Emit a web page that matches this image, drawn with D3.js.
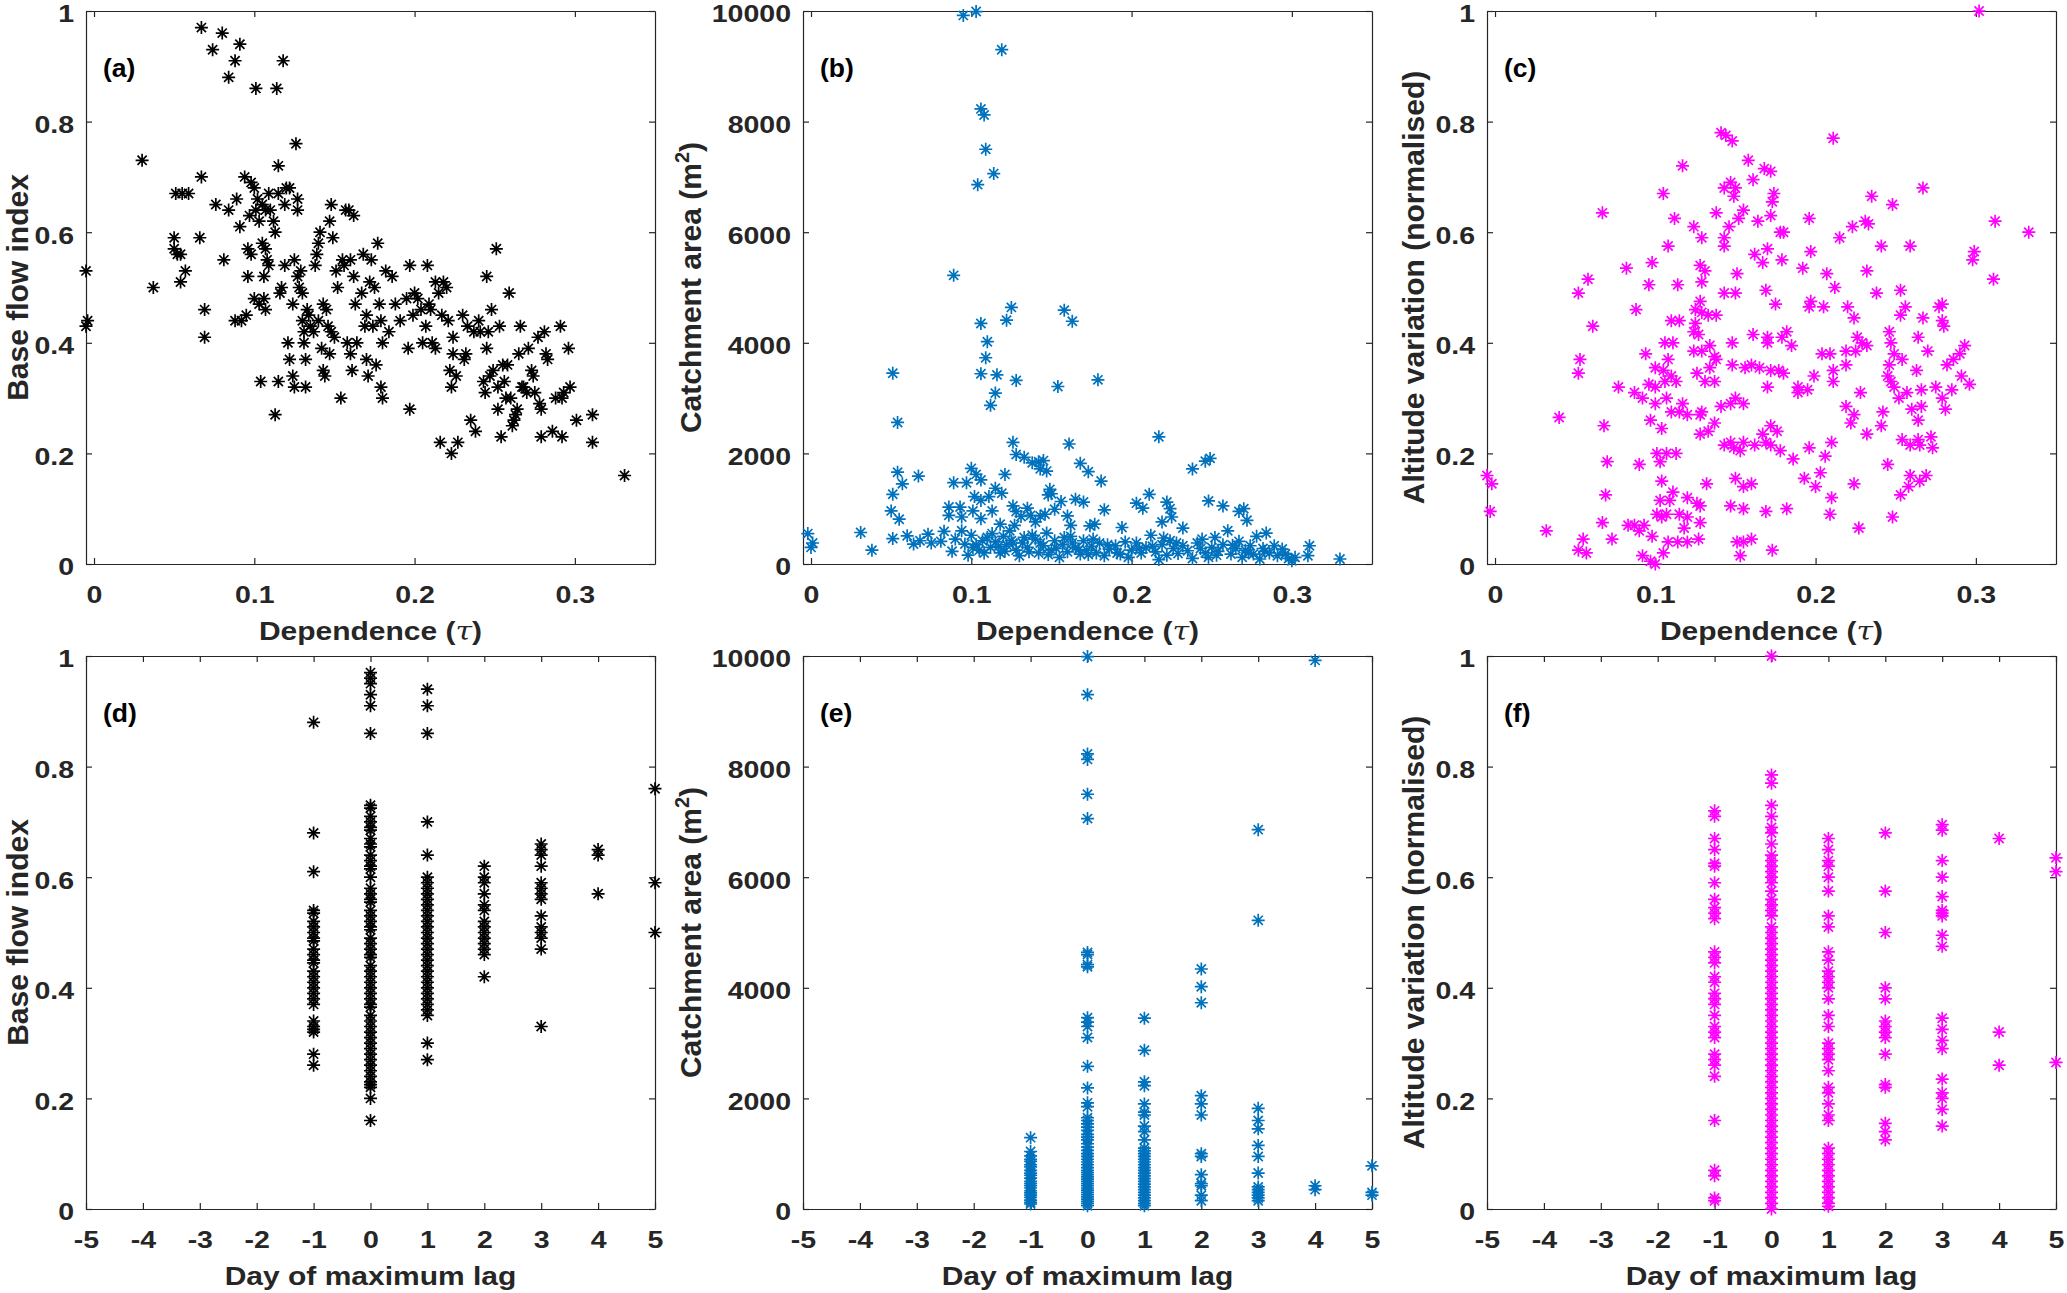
<!DOCTYPE html>
<html>
<head>
<meta charset="utf-8">
<title>Dependence, lag and catchment properties</title>
<script src="https://cdnjs.cloudflare.com/ajax/libs/d3/7.8.5/d3.min.js"></script>
<style>
  body { margin: 0; background: #fff; }
  svg { display: block; font-family: "Liberation Sans", Arial, Helvetica, sans-serif; font-weight: bold; }
</style>
</head>
<body>
<svg id="fig" width="2067" height="1293"></svg>
<script>
// ---- tick values ----
const tauTicks = [0, 0.1, 0.2, 0.3];
const lagTicks = [-5, -4, -3, -2, -1, 0, 1, 2, 3, 4, 5];
const unitTicks = [0, 0.2, 0.4, 0.6, 0.8, 1];
const areaTicks = [0, 2000, 4000, 6000, 8000, 10000];

// ---- (a) dependence vs base flow index: [tau, bfi] ----
const tauBfi = [
  [0.067,0.97],[0.074,0.93],[0.080,0.96],[0.091,0.94],[0.088,0.91],[0.084,0.88],[0.101,0.86],[0.114,0.86],[0.118,0.91],
  [0.126,0.76],[0.030,0.73],[0.115,0.72],[0.067,0.70],[0.094,0.70],
  [-0.005,0.53],[-0.004,0.44],[-0.005,0.43],[0.037,0.50],
  [0.051,0.67],[0.055,0.67],[0.059,0.67],[0.050,0.59],[0.050,0.57],[0.052,0.56],[0.054,0.56],[0.054,0.51],[0.057,0.53],
  [0.066,0.59],[0.069,0.46],[0.069,0.41],[0.076,0.65],[0.081,0.55],[0.084,0.64],[0.089,0.66],[0.091,0.61],[0.088,0.44],
  [0.092,0.44],[0.095,0.45],[0.096,0.52],[0.096,0.57],[0.098,0.56],[0.097,0.63],[0.098,0.69],[0.100,0.68],[0.102,0.66],
  [0.101,0.64],[0.103,0.62],[0.100,0.48],[0.103,0.47],[0.104,0.33],[0.106,0.48],[0.107,0.46],[0.105,0.58],[0.107,0.57],
  [0.108,0.55],[0.106,0.52],[0.109,0.54],[0.105,0.65],[0.107,0.64],[0.109,0.67],[0.110,0.64],[0.113,0.27],[0.115,0.33],
  [0.112,0.62],[0.113,0.60],[0.116,0.49],[0.117,0.50],[0.115,0.67],[0.119,0.54],[0.119,0.65],[0.120,0.68],[0.122,0.68],
  [0.121,0.40],[0.122,0.37],[0.124,0.34],[0.125,0.32],[0.124,0.47],[0.125,0.55],[0.127,0.66],[0.127,0.64],[0.127,0.52],
  [0.128,0.50],[0.129,0.53],[0.130,0.49],[0.130,0.44],[0.131,0.40],[0.132,0.37],[0.131,0.42],[0.132,0.32],[0.133,0.46],
  [0.134,0.45],[0.135,0.43],[0.137,0.42],[0.138,0.54],[0.139,0.56],[0.140,0.58],[0.141,0.60],[0.140,0.44],[0.142,0.39],
  [0.143,0.47],[0.143,0.35],[0.144,0.34],[0.145,0.46],[0.146,0.43],[0.147,0.38],[0.148,0.42],[0.147,0.62],[0.148,0.65],
  [0.149,0.59],[0.150,0.41],[0.151,0.53],[0.152,0.50],[0.154,0.30],[0.155,0.55],[0.156,0.54],[0.157,0.64],[0.158,0.40],
  [0.159,0.64],[0.160,0.38],[0.161,0.35],[0.162,0.63],[0.160,0.55],[0.162,0.52],[0.163,0.47],[0.164,0.40],[0.167,0.49],
  [0.168,0.56],[0.169,0.43],[0.170,0.45],[0.170,0.37],[0.171,0.34],[0.172,0.51],[0.173,0.55],[0.174,0.43],[0.175,0.50],
  [0.176,0.36],[0.177,0.58],[0.178,0.47],[0.179,0.44],[0.179,0.32],[0.180,0.30],[0.180,0.40],[0.182,0.53],[0.184,0.42],
  [0.186,0.52],[0.188,0.47],[0.191,0.44],[0.195,0.48],[0.196,0.39],[0.197,0.28],[0.197,0.54],[0.199,0.45],[0.200,0.49],
  [0.202,0.48],[0.204,0.46],[0.205,0.40],[0.207,0.43],[0.208,0.54],[0.209,0.47],[0.210,0.46],[0.211,0.40],[0.213,0.39],
  [0.213,0.51],[0.215,0.49],[0.217,0.45],[0.218,0.51],[0.220,0.50],[0.221,0.44],[0.222,0.35],[0.223,0.32],[0.224,0.41],
  [0.224,0.38],[0.226,0.34],[0.216,0.22],[0.223,0.20],[0.227,0.22],[0.230,0.45],[0.232,0.38],[0.231,0.37],[0.233,0.43],
  [0.235,0.26],[0.237,0.42],[0.238,0.24],[0.240,0.44],[0.241,0.42],[0.243,0.33],[0.244,0.31],[0.245,0.39],[0.245,0.52],
  [0.246,0.42],[0.247,0.34],[0.248,0.46],[0.249,0.35],[0.251,0.57],[0.252,0.32],[0.252,0.28],[0.253,0.43],[0.254,0.23],
  [0.255,0.36],[0.256,0.33],[0.257,0.30],[0.258,0.36],[0.259,0.49],[0.260,0.30],[0.261,0.25],[0.262,0.26],[0.263,0.27],
  [0.264,0.28],[0.265,0.38],[0.266,0.43],[0.267,0.32],[0.268,0.32],[0.270,0.31],[0.271,0.39],[0.273,0.35],[0.274,0.34],
  [0.275,0.31],[0.277,0.41],[0.278,0.29],[0.279,0.28],[0.279,0.23],[0.281,0.42],[0.282,0.38],[0.283,0.37],[0.286,0.24],
  [0.288,0.30],[0.291,0.43],[0.292,0.23],[0.292,0.30],[0.293,0.31],[0.296,0.39],[0.297,0.32],[0.301,0.26],[0.311,0.27],
  [0.311,0.22],[0.331,0.16]
];

// ---- (b) dependence vs catchment area: [tau, area] ----
const tauArea = [
  [0.095,9920],[0.103,9990],[0.119,9300],[0.106,8230],[0.108,8120],[0.109,7500],[0.114,7060],[0.104,6860],[0.089,5220],
  [0.125,4640],[0.122,4410],[0.106,4350],[0.110,4020],[0.109,3730],[0.106,3440],[0.116,3420],[0.128,3320],[0.115,3090],
  [0.112,2870],[0.051,3450],[0.054,2560],[0.158,4590],[0.163,4390],[0.154,3210],[0.179,3330],[0.217,2300],[0.161,2170],
  [0.126,2200],[0.128,1980],[0.133,1930],[0.138,1830],[0.142,1850],[0.143,1720],[0.145,1870],[0.147,1680],[0.121,1620],
  [0.100,1730],[0.103,1620],[0.106,1520],[0.089,1470],[0.097,1470],[0.054,1660],[0.057,1450],[0.067,1590],[0.051,1260],
  [0.050,960],[0.055,810],[0.168,1820],[0.173,1670],[0.181,1500],[0.238,1720],[0.246,1860],[0.249,1910],[0.248,1140],
  [0.257,1050],[0.267,950],[0.270,1000],[0.272,790],[0.115,1370],[0.119,1280],[0.111,1220],[0.102,1220],[0.106,1150],
  [0.093,1030],[0.086,1030],[0.086,880],[0.094,850],[0.101,960],[0.106,820],[0.113,960],[0.118,720],[0.126,1050],
  [0.128,950],[0.131,860],[0.135,1010],[0.137,880],[0.127,700],[0.124,600],[0.140,760],[0.143,870],[0.146,900],
  [0.148,1250],[0.149,1350],[0.150,1270],[0.152,990],[0.156,1130],[0.160,870],[0.162,700],[0.165,1170],[0.170,1120],
  [0.174,690],[0.177,720],[0.183,980],[0.194,660],[0.203,1100],[0.207,1010],[0.211,1260],[0.222,1120],[0.224,1000],
  [0.225,850],[0.219,760],[0.232,650],
  [0.000,300],[-0.002,550],[0.001,380],[0.031,570],[0.038,250],[0.051,460],[0.060,510],[0.064,360],[0.068,420],
  [0.073,540],[0.075,380],[0.081,410],[0.083,590],[0.088,230],[0.090,450],[0.094,600],[0.096,360],[0.098,160],
  [0.100,520],[0.103,350],[0.105,250],[0.107,420],[0.110,480],[0.112,300],[0.115,400],[0.118,200],[0.120,500],
  [0.122,350],[0.125,420],[0.128,250],[0.130,150],[0.132,380],[0.135,300],[0.138,520],[0.140,450],[0.142,200],
  [0.145,330],[0.147,560],[0.150,250],[0.152,420],[0.155,120],[0.157,350],[0.160,220],[0.162,500],[0.165,300],
  [0.168,180],[0.170,420],[0.172,250],[0.175,320],[0.178,200],[0.180,380],[0.183,150],[0.186,270],[0.190,330],
  [0.193,180],[0.196,400],[0.198,120],[0.200,250],[0.203,380],[0.206,200],[0.209,300],[0.212,520],[0.215,220],
  [0.217,80],[0.219,350],[0.222,160],[0.224,420],[0.226,280],[0.229,190],[0.232,330],[0.235,240],[0.238,100],
  [0.241,380],[0.244,450],[0.246,200],[0.248,120],[0.250,300],[0.252,480],[0.254,230],[0.257,350],[0.260,600],
  [0.262,180],[0.265,280],[0.267,410],[0.269,120],[0.271,250],[0.274,330],[0.276,180],[0.278,500],[0.280,90],
  [0.282,280],[0.284,560],[0.286,200],[0.289,330],[0.291,150],[0.294,270],[0.296,180],[0.298,100],[0.300,60],
  [0.302,120],[0.311,330],[0.310,150],[0.330,90],
  [0.101,300],[0.108,200],[0.113,550],[0.117,320],[0.121,230],[0.126,380],[0.133,480],[0.136,220],[0.143,380],
  [0.148,170],[0.153,280],[0.158,480],[0.163,380],[0.167,260],[0.173,170],[0.176,450],[0.185,350],[0.191,200],
  [0.205,280],[0.213,320],[0.220,470],[0.228,380],[0.243,280],[0.253,160],[0.263,340],[0.273,200],[0.283,230]
];

// ---- (c) dependence vs normalised altitude variation: [tau, alt] ----
const tauAlt = [
  [0.302,1.00],[0.141,0.78],[0.144,0.775],[0.148,0.765],[0.211,0.77],[0.158,0.73],[0.117,0.72],[0.168,0.715],[0.172,0.71],
  [0.147,0.69],[0.143,0.68],[0.150,0.68],[0.161,0.695],[0.267,0.68],[0.105,0.67],[0.149,0.665],[0.174,0.67],[0.235,0.665],
  [0.248,0.65],[0.173,0.655],[0.067,0.635],[0.138,0.635],[0.155,0.64],[0.172,0.63],[0.196,0.625],[0.112,0.625],[0.152,0.625],
  [0.164,0.62],[0.231,0.62],[0.233,0.615],[0.312,0.62],[0.124,0.61],[0.146,0.61],[0.223,0.61],[0.129,0.59],[0.178,0.60],
  [0.180,0.60],[0.215,0.59],[0.333,0.60],[0.143,0.59],[0.108,0.575],[0.143,0.575],[0.241,0.575],[0.259,0.575],[0.170,0.57],
  [0.197,0.565],[0.162,0.56],[0.299,0.565],[0.298,0.55],[0.179,0.55],[0.167,0.545],[0.098,0.545],[0.082,0.535],[0.128,0.54],
  [0.131,0.53],[0.192,0.535],[0.207,0.525],[0.151,0.525],[0.232,0.53],[0.058,0.515],[0.311,0.515],[0.096,0.505],[0.114,0.505],
  [0.129,0.51],[0.212,0.50],[0.052,0.49],[0.143,0.49],[0.150,0.49],[0.169,0.495],[0.238,0.49],[0.253,0.495],[0.128,0.475],
  [0.175,0.47],[0.197,0.475],[0.196,0.465],[0.205,0.465],[0.220,0.465],[0.279,0.47],[0.277,0.465],[0.088,0.46],[0.125,0.46],
  [0.129,0.455],[0.133,0.45],[0.138,0.45],[0.256,0.465],[0.253,0.45],[0.110,0.44],[0.115,0.44],[0.125,0.435],[0.224,0.445],
  [0.267,0.445],[0.279,0.44],[0.280,0.43],[0.061,0.43],[0.124,0.42],[0.127,0.415],[0.161,0.415],[0.182,0.42],[0.179,0.41],
  [0.170,0.41],[0.226,0.41],[0.229,0.40],[0.246,0.42],[0.264,0.41],[0.247,0.40],[0.106,0.40],[0.111,0.40],[0.148,0.40],
  [0.170,0.40],[0.185,0.395],[0.134,0.395],[0.293,0.395],[0.232,0.395],[0.094,0.38],[0.124,0.385],[0.129,0.385],[0.138,0.37],
  [0.204,0.38],[0.209,0.38],[0.219,0.385],[0.225,0.385],[0.270,0.385],[0.249,0.38],[0.290,0.38],[0.053,0.37],[0.108,0.37],
  [0.137,0.375],[0.286,0.37],[0.254,0.37],[0.148,0.36],[0.156,0.355],[0.160,0.36],[0.165,0.355],[0.172,0.35],[0.180,0.345],
  [0.177,0.35],[0.134,0.355],[0.219,0.36],[0.246,0.36],[0.282,0.36],[0.100,0.355],[0.105,0.35],[0.110,0.34],[0.052,0.345],
  [0.126,0.345],[0.211,0.35],[0.245,0.34],[0.291,0.34],[0.106,0.33],[0.113,0.33],[0.131,0.33],[0.137,0.33],[0.170,0.32],
  [0.199,0.34],[0.211,0.33],[0.247,0.33],[0.263,0.35],[0.077,0.32],[0.096,0.325],[0.100,0.32],[0.189,0.32],[0.195,0.315],
  [0.249,0.32],[0.257,0.31],[0.275,0.32],[0.266,0.315],[0.285,0.315],[0.296,0.325],[0.087,0.31],[0.092,0.30],[0.107,0.30],
  [0.150,0.30],[0.189,0.31],[0.228,0.31],[0.252,0.30],[0.279,0.30],[0.100,0.29],[0.117,0.29],[0.129,0.275],[0.147,0.29],
  [0.155,0.29],[0.219,0.285],[0.260,0.28],[0.266,0.285],[0.281,0.28],[0.040,0.265],[0.110,0.275],[0.115,0.275],[0.120,0.27],
  [0.128,0.27],[0.141,0.285],[0.224,0.27],[0.242,0.275],[0.097,0.26],[0.222,0.255],[0.068,0.25],[0.104,0.245],[0.137,0.255],
  [0.172,0.25],[0.241,0.25],[0.264,0.26],[0.128,0.235],[0.133,0.24],[0.167,0.235],[0.176,0.24],[0.232,0.235],[0.264,0.225],
  [0.272,0.23],[0.143,0.215],[0.147,0.22],[0.155,0.22],[0.162,0.215],[0.169,0.22],[0.172,0.215],[0.178,0.205],[0.196,0.21],
  [0.210,0.22],[0.254,0.225],[0.259,0.215],[0.265,0.215],[0.273,0.21],[0.101,0.20],[0.107,0.20],[0.113,0.20],[0.149,0.21],
  [0.153,0.205],[0.206,0.195],[0.070,0.185],[0.090,0.18],[0.103,0.185],[0.186,0.19],[0.245,0.18],[-0.005,0.16],[-0.002,0.145],
  [0.150,0.155],[0.155,0.14],[0.160,0.145],[0.193,0.155],[0.203,0.165],[0.200,0.14],[0.104,0.15],[0.132,0.145],[0.224,0.145],
  [0.259,0.16],[0.269,0.16],[0.258,0.14],[0.265,0.15],[0.069,0.125],[0.111,0.13],[0.120,0.12],[0.126,0.11],[0.109,0.115],
  [0.103,0.115],[0.210,0.12],[0.253,0.125],[-0.003,0.095],[0.101,0.09],[0.104,0.085],[0.107,0.09],[0.115,0.09],[0.120,0.085],
  [0.128,0.105],[0.147,0.105],[0.155,0.10],[0.169,0.095],[0.182,0.10],[0.209,0.09],[0.248,0.085],[0.067,0.075],[0.083,0.07],
  [0.087,0.07],[0.093,0.07],[0.090,0.06],[0.118,0.065],[0.128,0.075],[0.127,0.045],[0.227,0.065],[0.032,0.06],[0.055,0.045],
  [0.073,0.045],[0.098,0.05],[0.108,0.04],[0.114,0.04],[0.120,0.04],[0.151,0.04],[0.155,0.04],[0.160,0.045],[0.052,0.025],
  [0.057,0.02],[0.105,0.02],[0.092,0.015],[0.097,0.005],[0.100,0.0],[0.153,0.015],[0.173,0.025]
];

// ---- (d)-(f) day of maximum lag: [lag, values at that lag] ----
const bfiByLag = [
  [-1, [0.88,0.68,0.61,0.54,0.535,0.52,0.51,0.50,0.49,0.485,0.47,0.46,0.45,0.445,0.43,0.42,0.41,0.40,0.39,0.38,0.37,0.34,0.33,0.325,0.32,0.28,0.26]],
  [0, [0.97,0.96,0.95,0.93,0.91,0.86,0.73,0.725,0.71,0.70,0.69,0.685,0.67,0.66,0.655,0.64,0.63,0.62,0.615,0.60,0.58,0.57,0.56,0.555,
       0.54,0.53,0.52,0.51,0.505,0.49,0.48,0.47,0.46,0.455,0.44,0.43,0.42,0.41,0.40,0.39,0.38,0.37,0.365,0.35,0.34,0.33,0.32,
       0.31,0.30,0.29,0.28,0.27,0.26,0.25,0.24,0.23,0.225,0.22,0.20,0.16]],
  [1, [0.94,0.91,0.86,0.70,0.64,0.60,0.59,0.58,0.57,0.56,0.55,0.54,0.53,0.52,0.51,0.50,0.49,0.48,0.47,0.46,0.45,0.44,0.43,
       0.42,0.41,0.40,0.39,0.38,0.37,0.36,0.35,0.30,0.27]],
  [2, [0.62,0.60,0.59,0.57,0.55,0.54,0.52,0.51,0.50,0.49,0.48,0.47,0.46,0.42]],
  [3, [0.66,0.65,0.64,0.62,0.59,0.58,0.57,0.56,0.53,0.51,0.50,0.49,0.47,0.33]],
  [4, [0.65,0.64,0.57]],
  [5, [0.76,0.59,0.50]]
];
const areaByLag = [
  [-1, [1290,1040,960,900,860,800,760,700,650,610,560,500,460,420,380,330,290,250,210,160,120,90]],
  [0, [9990,9300,8230,8130,7500,7060,4640,4600,4420,4380,3460,3380,3300,3100,2580,2190,1920,1850,1650,1600,1540,1480,1420,
       1350,1300,1250,1180,1120,1060,1000,950,900,850,800,750,700,660,620,580,540,500,460,420,380,340,300,260,220,180,140,100,60]],
  [1, [3450,2870,2300,2230,1900,1750,1700,1500,1400,1250,1100,1050,1000,950,900,850,800,750,700,650,600,550,500,450,400,
       350,300,250,200,150,100,60]],
  [2, [4340,4020,3730,2050,1900,1700,1000,950,620,460,420,250,150]],
  [3, [6860,5220,1820,1600,1450,1150,950,650,400,350,300,250,200,150]],
  [4, [9920,420,350]],
  [5, [780,300,250]]
];
const altByLag = [
  [-1, [0.72,0.71,0.67,0.65,0.625,0.62,0.59,0.56,0.545,0.535,0.525,0.465,0.455,0.445,0.42,0.41,0.39,0.38,0.37,0.35,0.33,
        0.32,0.31,0.28,0.27,0.26,0.24,0.16,0.07,0.06,0.02,0.015]],
  [0, [1.0,0.785,0.77,0.73,0.71,0.69,0.68,0.66,0.64,0.63,0.62,0.61,0.60,0.59,0.575,0.56,0.55,0.54,0.53,0.51,0.50,0.49,0.48,
       0.47,0.46,0.45,0.44,0.43,0.42,0.41,0.40,0.39,0.38,0.37,0.36,0.35,0.34,0.33,0.32,0.31,0.30,0.29,0.28,0.27,0.26,0.25,
       0.24,0.23,0.22,0.21,0.20,0.19,0.18,0.17,0.16,0.15,0.14,0.13,0.12,0.11,0.10,0.09,0.08,0.07,0.06,0.05,0.04,0.03,0.02,0.01,0.0]],
  [1, [0.67,0.65,0.63,0.62,0.60,0.575,0.53,0.51,0.465,0.45,0.43,0.42,0.41,0.40,0.38,0.35,0.33,0.30,0.29,0.28,0.27,0.25,
       0.22,0.21,0.19,0.17,0.16,0.11,0.10,0.09,0.08,0.07,0.06,0.05,0.04,0.03,0.02,0.01,0.005]],
  [2, [0.68,0.575,0.50,0.40,0.38,0.34,0.33,0.32,0.31,0.28,0.225,0.22,0.155,0.14,0.125]],
  [3, [0.695,0.685,0.63,0.60,0.565,0.54,0.535,0.53,0.495,0.475,0.345,0.325,0.305,0.29,0.235,0.21,0.20,0.18,0.15]],
  [4, [0.67,0.32,0.26]],
  [5, [0.635,0.61,0.265]]
];

// ---- layout ----
const svg = d3.select("#fig");
const W = 569, H = 553;
const colX = [86, 803, 1487];
const rowY = [11, 656];
const ink = "#262626";
const tickFont = 28.5, squash = 0.87;   // horizontal text in the source is a bit flattened

function star(r) {
  const a = r * Math.SQRT1_2;
  return `M${-r},0H${r}M0,${-r}V${r}M${-a},${-a}L${a},${a}M${-a},${a}L${a},${-a}`;
}
const fmtUnit = d => String(+d.toFixed(1));
const fmtPlain = d => String(d);
const flatten = cols => cols.flatMap(([lag, vals]) => vals.map(v => [lag, v]));

function drawPanel(p) {
  const g = svg.append("g").attr("transform", `translate(${colX[p.col]},${rowY[p.row]})`);
  const x = d3.scaleLinear().domain(p.xDomain).range([0, W]);
  const y = d3.scaleLinear().domain(p.yDomain).range([H, 0]);

  // box with inward ticks on all four sides
  const sides = [
    [d3.axisBottom(x).tickValues(p.xTicks).tickFormat(p.xFmt), `translate(0,${H})`, "x"],
    [d3.axisTop(x).tickValues(p.xTicks).tickFormat(""), "translate(0,0)", ""],
    [d3.axisLeft(y).tickValues(p.yTicks).tickFormat(p.yFmt).tickPadding(12), "translate(0,0)", "y"],
    [d3.axisRight(y).tickValues(p.yTicks).tickFormat(""), `translate(${W},0)`, ""]
  ];
  sides.forEach(([ax, tr, kind]) => {
    const a = g.append("g").attr("transform", tr)
      .call(ax.tickSizeInner(-6).tickSizeOuter(0))
      .attr("color", ink)
      .attr("font-family", null).attr("font-size", tickFont);
    a.select(".domain").attr("stroke-width", 1.2);
    a.selectAll(".tick line").attr("stroke-width", 1.2);
    const t = a.selectAll(".tick text").attr("dy", null).attr("transform", `scale(1,${squash})`);
    if (kind === "x") t.attr("y", 38.7 / squash);
    if (kind === "y") t.attr("y", 2 / squash + tickFont * 0.358);
  });

  // markers
  g.append("g").selectAll("path")
    .data(p.points)
    .join("path")
    .attr("transform", d => `translate(${x(d[0])},${y(d[1])})`)
    .attr("d", star(6.5))
    .attr("fill", "none")
    .attr("stroke", p.color)
    .attr("stroke-width", 1.7);

  // panel letter
  g.append("text").attr("x", 17).attr("y", 66)
    .attr("font-size", 26.5).attr("fill", "#000").text(p.letter);

  // x label
  const xl = g.append("text").attr("transform", `translate(${W / 2},${H + 76}) scale(1,0.85)`)
    .attr("text-anchor", "middle").attr("font-size", 30).attr("fill", ink);
  if (p.row === 0) {
    xl.append("tspan").text("Dependence (");
    xl.append("tspan").attr("font-family", "'DejaVu Serif', 'Liberation Serif', serif")
      .attr("font-style", "italic").attr("font-weight", "normal").text("\u03C4");
    xl.append("tspan").text(")");
  } else {
    xl.text("Day of maximum lag");
  }

  // y label
  const yl = g.append("text")
    .attr("transform", `translate(${-p.yLabelGap},${H / 2}) rotate(-90)`)
    .attr("text-anchor", "middle").attr("font-size", 30).attr("fill", ink);
  if (p.yLabel === "area") {
    yl.append("tspan").text("Catchment area (m");
    yl.append("tspan").attr("font-size", 20).attr("dy", -12).text("2");
    yl.append("tspan").attr("dy", 12).text(")");
  } else {
    yl.text(p.yLabel);
  }
}

const blue = "#0072BD", magenta = "#FF00FF", black = "#000000";
const tauDom = [-0.005, 0.35], lagDom = [-5, 5];

drawPanel({col: 0, row: 0, xDomain: tauDom, xTicks: tauTicks, xFmt: fmtUnit, yDomain: [0, 1], yTicks: unitTicks, yFmt: fmtUnit,
  points: tauBfi, color: black, letter: "(a)", yLabel: "Base flow index", yLabelGap: 58});
drawPanel({col: 1, row: 0, xDomain: tauDom, xTicks: tauTicks, xFmt: fmtUnit, yDomain: [0, 10000], yTicks: areaTicks, yFmt: fmtPlain,
  points: tauArea, color: blue, letter: "(b)", yLabel: "area", yLabelGap: 102});
drawPanel({col: 2, row: 0, xDomain: tauDom, xTicks: tauTicks, xFmt: fmtUnit, yDomain: [0, 1], yTicks: unitTicks, yFmt: fmtUnit,
  points: tauAlt, color: magenta, letter: "(c)", yLabel: "Altitude variation (normalised)", yLabelGap: 63});
drawPanel({col: 0, row: 1, xDomain: lagDom, xTicks: lagTicks, xFmt: fmtPlain, yDomain: [0, 1], yTicks: unitTicks, yFmt: fmtUnit,
  points: flatten(bfiByLag), color: black, letter: "(d)", yLabel: "Base flow index", yLabelGap: 58});
drawPanel({col: 1, row: 1, xDomain: lagDom, xTicks: lagTicks, xFmt: fmtPlain, yDomain: [0, 10000], yTicks: areaTicks, yFmt: fmtPlain,
  points: flatten(areaByLag), color: blue, letter: "(e)", yLabel: "area", yLabelGap: 102});
drawPanel({col: 2, row: 1, xDomain: lagDom, xTicks: lagTicks, xFmt: fmtPlain, yDomain: [0, 1], yTicks: unitTicks, yFmt: fmtUnit,
  points: flatten(altByLag), color: magenta, letter: "(f)", yLabel: "Altitude variation (normalised)", yLabelGap: 63});
</script>
</body>
</html>
